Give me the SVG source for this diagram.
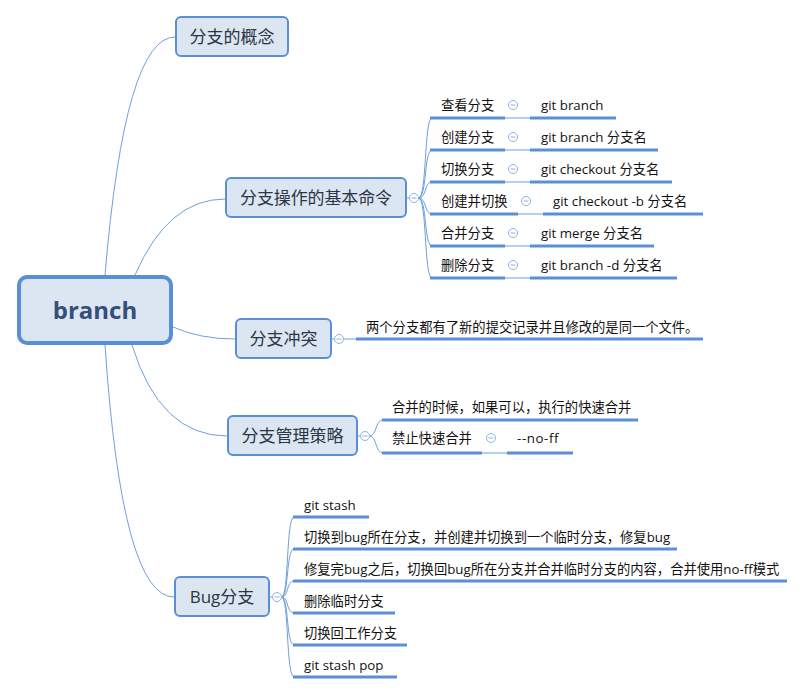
<svg xmlns="http://www.w3.org/2000/svg" width="804" height="694" viewBox="0 0 804 694">
<style>
text{font-family:"Open Sans","Noto Sans CJK SC",sans-serif;}
.box{fill:#DCE6F2;stroke:#5B8FD5;stroke-width:2;}
.root{fill:#DCE6F2;stroke:#5B8FD5;stroke-width:4;}
.bt{font-size:17px;fill:#2B3544;text-anchor:middle;}
.rt{font-size:24px;font-weight:bold;fill:#34507A;text-anchor:middle;}
.lt{font-size:13.3px;fill:#111;}
.ul{stroke:#5B8FD5;stroke-width:3;fill:none;}
.cn{stroke:#6F9FDE;stroke-width:1;fill:none;}
.tg{fill:#fff;stroke:#8FB2E2;stroke-width:1;}
.tm{stroke:#8FB2E2;stroke-width:1;}
</style>
<defs>
<g id="tog"><circle class="tg" cx="0" cy="0" r="4.5"/><line class="tm" x1="-2.5" y1="0" x2="2.5" y2="0"/></g>
</defs>
<g id="connectors">
<path class="cn" d="M105,275 Q125,37 175,37"/>
<path class="cn" d="M135,275 Q168,199 225,199"/>
<path class="cn" d="M173,327 Q200,339 235,339"/>
<path class="cn" d="M132,345 Q160,436 227,436"/>
<path class="cn" d="M105,345 Q122,597 174,597"/>
<line class="cn" x1="407" y1="198" x2="409.5" y2="198"/>
<path class="cn" d="M418.5,198 C427,198 424,118 432,118"/>
<path class="cn" d="M418.5,198 C427,198 424,150 432,150"/>
<path class="cn" d="M418.5,198 C427,198 424,182 432,182"/>
<path class="cn" d="M418.5,198 C427,198 424,214 432,214"/>
<path class="cn" d="M418.5,198 C427,198 424,246 432,246"/>
<path class="cn" d="M418.5,198 C427,198 424,278 432,278"/>
<line class="cn" x1="505" y1="118" x2="530" y2="118"/>
<line class="cn" x1="505" y1="150" x2="530" y2="150"/>
<line class="cn" x1="505" y1="182" x2="530" y2="182"/>
<line class="cn" x1="518" y1="214" x2="543" y2="214"/>
<line class="cn" x1="505" y1="246" x2="530" y2="246"/>
<line class="cn" x1="505" y1="278" x2="530" y2="278"/>
<line class="cn" x1="332" y1="339" x2="334.5" y2="339"/>
<line class="cn" x1="343.5" y1="339" x2="356" y2="339"/>
<line class="cn" x1="357" y1="436" x2="360.5" y2="436"/>
<path class="cn" d="M369.5,436 C377,436 375,420 383,420"/>
<path class="cn" d="M369.5,436 C377,436 375,453 383,453"/>
<line class="cn" x1="482" y1="453" x2="507" y2="453"/>
<line class="cn" x1="270" y1="597" x2="272.5" y2="597"/>
<path class="cn" d="M281.5,597 C289,597 286,517 294,517"/>
<path class="cn" d="M281.5,597 C289,597 286,549 294,549"/>
<path class="cn" d="M281.5,597 C289,597 286,581 294,581"/>
<path class="cn" d="M281.5,597 C289,597 286,613 294,613"/>
<path class="cn" d="M281.5,597 C289,597 286,645 294,645"/>
<path class="cn" d="M281.5,597 C289,597 286,677 294,677"/>
</g>
<g id="root">
<rect class="root" x="19" y="277" width="152" height="66" rx="8"/>
<text class="rt" x="95" y="319">branch</text>
</g>
<g id="n-concept">
<rect class="box" x="176" y="17" width="112" height="39" rx="5"/>
<text class="bt" x="232" y="43">分支的概念</text>
</g>
<g id="n-commands">
<rect class="box" x="226" y="178" width="180" height="39" rx="5"/>
<text class="bt" x="240" y="204" style="text-anchor:start" textLength="152" lengthAdjust="spacing">分支操作的基本命令</text>
<use href="#tog" x="414" y="198"/>
</g>
<g id="c-view">
<text class="lt" x="441" y="110">查看分支</text><use href="#tog" x="513" y="105"/>
<line class="ul" x1="430" y1="118" x2="505" y2="118"/>
<text class="lt" x="541" y="110">git branch</text>
<line class="ul" x1="530" y1="118" x2="616" y2="118"/>
</g>
<g id="c-create">
<text class="lt" x="441" y="142">创建分支</text><use href="#tog" x="513" y="137"/>
<line class="ul" x1="430" y1="150" x2="505" y2="150"/>
<text class="lt" x="541" y="142">git branch 分支名</text>
<line class="ul" x1="530" y1="150" x2="658" y2="150"/>
</g>
<g id="c-switch">
<text class="lt" x="441" y="174">切换分支</text><use href="#tog" x="513" y="169"/>
<line class="ul" x1="430" y1="182" x2="505" y2="182"/>
<text class="lt" x="541" y="174">git checkout 分支名</text>
<line class="ul" x1="530" y1="182" x2="672" y2="182"/>
</g>
<g id="c-createswitch">
<text class="lt" x="441" y="206">创建并切换</text><use href="#tog" x="526" y="201"/>
<line class="ul" x1="430" y1="214" x2="518" y2="214"/>
<text class="lt" x="553" y="206">git checkout -b 分支名</text>
<line class="ul" x1="543" y1="214" x2="703" y2="214"/>
</g>
<g id="c-merge">
<text class="lt" x="441" y="238">合并分支</text><use href="#tog" x="513" y="233"/>
<line class="ul" x1="430" y1="246" x2="505" y2="246"/>
<text class="lt" x="541" y="238">git merge 分支名</text>
<line class="ul" x1="530" y1="246" x2="654" y2="246"/>
</g>
<g id="c-delete">
<text class="lt" x="441" y="270">删除分支</text><use href="#tog" x="513" y="265"/>
<line class="ul" x1="430" y1="278" x2="505" y2="278"/>
<text class="lt" x="541" y="270">git branch -d 分支名</text>
<line class="ul" x1="530" y1="278" x2="677" y2="278"/>
</g>
<g id="n-conflict">
<rect class="box" x="236" y="319" width="95" height="39" rx="5"/>
<text class="bt" x="283.5" y="345">分支冲突</text>
<use href="#tog" x="339" y="339"/>
</g>
<g id="c-conflict">
<text class="lt" x="366" y="332">两个分支都有了新的提交记录并且修改的是同一个文件。</text>
<line class="ul" x1="356" y1="339" x2="703" y2="339"/>
</g>
<g id="n-strategy">
<rect class="box" x="228" y="416" width="129" height="39" rx="5"/>
<text class="bt" x="292.5" y="442">分支管理策略</text>
<use href="#tog" x="365" y="436"/>
</g>
<g id="c-ff">
<text class="lt" x="392" y="412">合并的时候，如果可以，执行的快速合并</text>
<line class="ul" x1="382" y1="420" x2="638" y2="420"/>
</g>
<g id="c-noff">
<text class="lt" x="392" y="443">禁止快速合并</text><use href="#tog" x="491" y="438"/>
<line class="ul" x1="382" y1="453" x2="482" y2="453"/>
<text class="lt" x="517" y="443" letter-spacing="0.6">--no-ff</text>
<line class="ul" x1="507" y1="453" x2="573" y2="453"/>
</g>
<g id="n-bug">
<rect class="box" x="175" y="577" width="94" height="39" rx="5"/>
<text class="bt" x="222" y="603">Bug分支</text>
<use href="#tog" x="277" y="597"/>
</g>
<g id="c-bug1"><text class="lt" x="304" y="510">git stash</text><line class="ul" x1="293" y1="517" x2="369" y2="517"/></g>
<g id="c-bug2"><text class="lt" x="304" y="542">切换到bug所在分支，并创建并切换到一个临时分支，修复bug</text><line class="ul" x1="293" y1="549" x2="677" y2="549"/></g>
<g id="c-bug3"><text class="lt" x="304" y="574">修复完bug之后，切换回bug所在分支并合并临时分支的内容，合并使用no-ff模式</text><line class="ul" x1="293" y1="581" x2="787" y2="581"/></g>
<g id="c-bug4"><text class="lt" x="304" y="606">删除临时分支</text><line class="ul" x1="293" y1="613" x2="395" y2="613"/></g>
<g id="c-bug5"><text class="lt" x="304" y="638">切换回工作分支</text><line class="ul" x1="293" y1="645" x2="407" y2="645"/></g>
<g id="c-bug6"><text class="lt" x="304" y="670">git stash pop</text><line class="ul" x1="293" y1="677" x2="397" y2="677"/></g>
</svg>
